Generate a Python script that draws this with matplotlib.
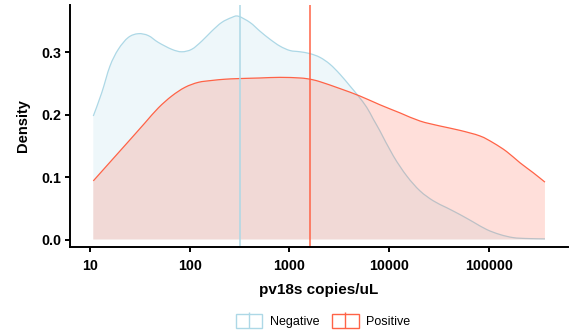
import numpy as np
import matplotlib.pyplot as plt
from matplotlib.path import Path
from matplotlib.patches import Patch, PathPatch
from matplotlib.lines import Line2D

plt.rcParams['font.family'] = ['Liberation Sans', 'DejaVu Sans']

# density estimates on log10(copies/uL)
neg_log = [1.033, 1.117, 1.200, 1.284, 1.384, 1.484, 1.584, 1.685, 1.819, 1.919,
           2.020, 2.120, 2.220, 2.320, 2.421, 2.487, 2.604, 2.704, 2.805, 2.905,
           3.005, 3.105, 3.206, 3.306, 3.406, 3.506, 3.607, 3.690, 3.774, 3.840,
           3.907, 4.041, 4.175, 4.308, 4.442, 4.576, 4.709, 4.843, 4.977, 5.110,
           5.244, 5.378, 5.561]
neg_dens = [0.198, 0.235, 0.278, 0.305, 0.324, 0.330, 0.327, 0.316, 0.305, 0.301,
            0.305, 0.318, 0.334, 0.348, 0.356, 0.358, 0.348, 0.334, 0.321, 0.310,
            0.303, 0.301, 0.298, 0.292, 0.281, 0.265, 0.246, 0.230, 0.212, 0.193,
            0.174, 0.134, 0.102, 0.078, 0.062, 0.051, 0.040, 0.028, 0.016, 0.008,
            0.003, 0.0016, 0.001]

pos_log = [1.033, 1.150, 1.284, 1.418, 1.551, 1.685, 1.819, 1.952, 2.086, 2.220,
           2.353, 2.487, 2.704, 2.905, 3.105, 3.206, 3.306, 3.506, 3.707, 3.907,
           4.108, 4.308, 4.509, 4.709, 4.910, 5.043, 5.177, 5.311, 5.444, 5.561]
pos_dens = [0.094, 0.115, 0.139, 0.163, 0.187, 0.211, 0.230, 0.244, 0.252, 0.255,
            0.257, 0.258, 0.259, 0.260, 0.259, 0.257, 0.253, 0.242, 0.230, 0.216,
            0.203, 0.190, 0.182, 0.175, 0.166, 0.155, 0.141, 0.123, 0.107, 0.092]

# group means (copies/uL)
neg_mean = 319
pos_mean = 1607

groups = ["Negative", "Positive"]
colors = ["#add8e6", "#ff6347"]


def smooth_path(lx, y, closed=False):
    # Catmull-Rom -> cubic Bezier segments, built in log10 space
    lx = np.asarray(lx, float)
    y = np.asarray(y, float)
    p = np.column_stack([lx, y])
    verts = [p[0]]
    codes = [Path.MOVETO]
    n = len(p)
    for i in range(n - 1):
        p0 = p[max(i - 1, 0)]
        p1 = p[i]
        p2 = p[i + 1]
        p3 = p[min(i + 2, n - 1)]
        c1 = p1 + (p2 - p0) / 6
        c2 = p2 - (p3 - p1) / 6
        verts += [c1, c2, p2]
        codes += [Path.CURVE4] * 3
    if closed:
        verts += [[lx[-1], 0.0], [lx[0], 0.0], p[0]]
        codes += [Path.LINETO, Path.LINETO, Path.CLOSEPOLY]
    v = np.array(verts)
    v[:, 0] = 10 ** v[:, 0]
    return Path(v, codes)


fig = plt.figure(figsize=(5.73, 3.35), dpi=100)
ax = fig.add_axes([70 / 573, 1 - 247 / 335, 498 / 573, 242 / 335])
ax.set_xscale('log')

for xs, ys, c in [(neg_log, neg_dens, colors[0]), (pos_log, pos_dens, colors[1])]:
    ax.add_patch(PathPatch(smooth_path(xs, ys, closed=True), facecolor=c,
                           alpha=0.2, linewidth=0))
    ax.add_patch(PathPatch(smooth_path(xs, ys), facecolor='none', edgecolor=c,
                           linewidth=0.9))

ax.axvline(neg_mean, color=colors[0], linewidth=1.1)
ax.axvline(pos_mean, color=colors[1], linewidth=1.1)

ax.set_xlim(10 ** 0.7995, 10 ** 5.792)
ax.set_ylim(-0.012, 0.376)
ax.set_xticks([10, 100, 1000, 10000, 100000])
ax.set_xticklabels(["10", "100", "1000", "10000", "100000"])
ax.minorticks_off()
ax.set_yticks([0.0, 0.1, 0.2, 0.3])
ax.set_yticklabels(["0.0", "0.1", "0.2", "0.3"])

for s in ["top", "right"]:
    ax.spines[s].set_visible(False)
for s in ["left", "bottom"]:
    ax.spines[s].set_linewidth(1.4)
ax.tick_params(length=3.5, width=1.4, labelsize=10.3)
ax.tick_params(axis='x', pad=5)
ax.tick_params(axis='y', pad=3)
for lab in ax.get_xticklabels() + ax.get_yticklabels():
    lab.set_fontweight('bold')

ax.set_xlabel("pv18s copies/uL", fontsize=11, fontweight='bold', labelpad=7)
ax.set_ylabel("Density", fontsize=10.5, fontweight='bold', labelpad=8)

handles = []
for c in colors:
    box = Patch(facecolor='white', edgecolor=c, linewidth=1.0)
    bar = Line2D([], [], color=c, marker='|', markersize=11.5, linestyle='none',
                 markeredgewidth=1.0)
    handles.append((box, bar))

fig.legend(handles, groups, loc='center', bbox_to_anchor=(323 / 573, 1 - 321 / 335),
           ncol=2, frameon=False, fontsize=9, handlelength=2.15, handleheight=1.28,
           columnspacing=1.0, handletextpad=0.6)

fig.savefig("out.png", dpi=100)
